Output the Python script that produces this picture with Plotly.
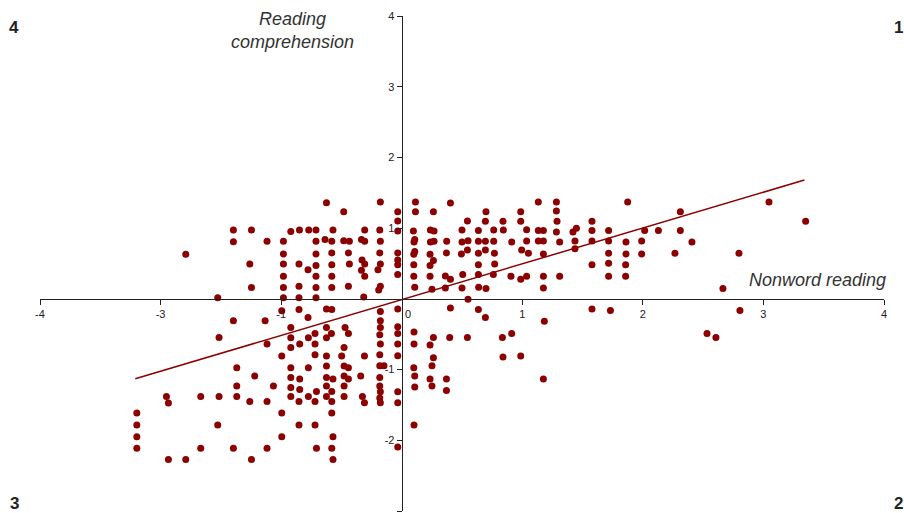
import plotly.graph_objects as go

# Nonword reading (x) and reading comprehension (y) z-scores
nonword = [
    -1.396, -1.396, -1.791, -1.526, -1.396, -1.515, -1.368, -1.368, -1.951, -1.935, -1.667, -1.515, -1.368,
    -2.197, -2.197, -1.526, -2.197, -2.197, -1.667, -1.396, -1.935, -1.791,
    -0.624, -0.481, -1.246, -0.920, -0.848, -0.771, -0.711, -0.570, -1.117, -0.981, -0.711, -0.636, -0.580,
    -0.481, -0.434, -0.981, -0.711, -0.580, -0.442, -1.260, -0.981, -0.852, -0.777, -0.711, -0.580, -0.434,
    -0.981, -0.711, -0.580, -1.246, -0.981, -0.852, -0.711, -0.580, -0.442, -0.981, -0.852, -0.711,
    -0.995, -0.852, -0.624, -0.580, -1.133, -0.777, -0.920, -0.624, -0.470, -0.920, -0.774, -0.719, -0.583,
    -0.442, -0.624, -1.117, -0.920, -0.846, -0.719, -0.478, -0.995, -0.719, -0.624, -0.498, -0.920, -0.774,
    -0.624, -0.478, -0.442, -1.219, -0.920, -0.846, -0.624, -0.570, -0.478, -0.442, -1.064, -0.920, -0.846,
    -0.624, -0.478, -1.260, -1.117, -0.920, -0.852, -0.774, -0.707, -0.719, -0.624, -0.580, -0.580, -0.478,
    -0.995, -0.580, -0.852, -0.719, -0.995, -0.570, -1.117, -0.707, -0.580, -1.246, -0.570,
    -0.177, 0.114, 0.404, -0.033, 0.114, 0.263, -0.033, 0.545, -0.307, -0.182, -0.033, 0.097, 0.238, 0.268,
    0.500, -0.334, -0.307, -0.177, 0.108, 0.102, 0.238, 0.268, 0.373, 0.500, 0.550, -0.182, -0.033, 0.108,
    0.100, 0.235, 0.371, 0.495, 0.545, -0.329, -0.307, -0.334, -0.177, -0.197, -0.033, -0.033, -0.033,
    0.100, 0.263, 0.235, -0.307, 0.100, 0.235, 0.362, 0.404, 0.506, -0.177, -0.191, 0.108, 0.251, 0.362,
    0.500, -0.315, 0.550, -0.033, 0.404, -0.177, -0.177, -0.177, -0.033, -0.182, -0.033, 0.102, 0.263,
    0.398, 0.545, -0.177, -0.033, 0.102, 0.235, -0.182, -0.033, 0.263, -0.309, -0.182, -0.147, 0.251,
    0.100, -0.340, -0.182, 0.108, 0.235, 0.371, -0.182, 0.108, 0.251, -0.177, -0.033, 0.371, -0.326,
    -0.182, -0.309, -0.177, -0.033, 0.102, -0.033,
    1.133, 1.283, 0.699, 0.987, 1.283, 0.694, 0.840, 0.987, 1.288, 0.636, 0.763, 0.843, 1.036, 1.133,
    1.175, 1.283, 1.420, 1.449, 0.636, 0.694, 0.763, 0.912, 1.036, 1.133, 1.175, 1.310, 1.437, 0.636,
    0.694, 0.769, 0.995, 1.051, 1.175, 1.437, 0.636, 0.771, 0.636, 0.760, 0.906, 0.987, 1.036, 1.175,
    1.310, 0.638, 0.699, 1.175, 0.636, 0.694, 1.183, 0.912, 0.835, 0.840, 0.987, 1.175,
    1.874, 1.578, 2.311, 1.578, 1.716, 2.015, 2.129, 2.311, 1.578, 1.716, 1.860, 1.990, 2.407, 1.716,
    1.860, 1.990, 2.266, 1.578, 1.716, 1.857, 1.716, 1.857, 1.578, 1.731,
    3.046, 3.350, 2.797, 2.664, 2.805, 2.532, 2.606,
]
comprehension = [
    0.975, 0.809, 0.631, 0.014, -0.311, -0.547, -0.975, -1.233, -1.380, -1.473, -1.380, -1.380, -1.380,
    -1.614, -1.784, -1.784, -1.949, -2.114, -2.114, -2.114, -2.270, -2.270,
    1.360, 1.233, 0.975, 0.951, 0.975, 0.975, 0.975, 0.975, 0.815, 0.815, 0.815, 0.838, 0.815,
    0.823, 0.815, 0.636, 0.636, 0.650, 0.650, 0.494, 0.494, 0.494, 0.410, 0.470, 0.484, 0.494,
    0.321, 0.321, 0.321, 0.160, 0.160, 0.179, 0.160, 0.160, 0.179, 0.014, 0.014, 0.014,
    -0.169, -0.151, -0.145, -0.151, -0.311, -0.264, -0.405, -0.405, -0.405, -0.551, -0.551, -0.490, -0.490,
    -0.490, -0.551, -0.640, -0.688, -0.640, -0.640, -0.688, -0.809, -0.791, -0.809, -0.809, -0.975, -0.975,
    -0.951, -0.951, -0.975, -1.092, -1.112, -1.134, -1.112, -1.134, -1.092, -1.134, -1.233, -1.253, -1.281,
    -1.233, -1.233, -1.451, -1.451, -1.380, -1.451, -1.380, -1.309, -1.451, -1.380, -1.309, -1.451, -1.380,
    -1.614, -1.614, -1.784, -1.784, -1.949, -1.949, -2.114, -2.114, -2.114, -2.270, -2.270,
    1.370, 1.370, 1.356, 1.233, 1.233, 1.233, 1.102, 1.102, 0.975, 0.975, 0.960, 0.960, 0.975, 0.960,
    0.975, 0.838, 0.815, 0.815, 0.838, 0.805, 0.805, 0.815, 0.815, 0.805, 0.823, 0.650, 0.650, 0.668,
    0.631, 0.631, 0.650, 0.636, 0.692, 0.551, 0.494, 0.405, 0.494, 0.410, 0.551, 0.484, 0.343,
    0.484, 0.541, 0.470, 0.321, 0.321, 0.321, 0.325, 0.278, 0.343, 0.179, 0.127, 0.165, 0.137, 0.155,
    0.155, 0.028, -0.004, -0.145, -0.131, -0.179, -0.311, -0.405, -0.395, -0.508, -0.490, -0.470, -0.547,
    -0.547, -0.547, -0.640, -0.640, -0.640, -0.654, -0.791, -0.805, -0.833, -0.809, -0.946, -0.946, -0.946,
    -0.975, -1.092, -1.112, -1.092, -1.134, -1.134, -1.233, -1.247, -1.233, -1.314, -1.314, -1.295, -1.380,
    -1.403, -1.469, -1.469, -1.469, -1.784, -2.095,
    1.370, 1.370, 1.233, 1.233, 1.243, 1.097, 1.097, 1.097, 1.097, 0.965, 0.975, 0.975, 0.979, 0.965,
    0.965, 0.946, 0.946, 0.999, 0.815, 0.815, 0.815, 0.805, 0.819, 0.819, 0.819, 0.805, 0.819, 0.645,
    0.692, 0.645, 0.692, 0.645, 0.636, 0.710, 0.484, 0.494, 0.343, 0.343, 0.321, 0.278, 0.321, 0.321,
    0.321, 0.165, 0.145, 0.155, -0.151, -0.264, -0.315, -0.490, -0.547, -0.823, -0.809, -1.134,
    1.370, 1.097, 1.233, 0.965, 0.965, 0.965, 0.965, 0.965, 0.819, 0.819, 0.805, 0.819, 0.805, 0.645,
    0.636, 0.636, 0.645, 0.484, 0.504, 0.484, 0.321, 0.321, -0.145, -0.165,
    1.370, 1.097, 0.645, 0.145, -0.165, -0.490, -0.547,
]

# Regression line end points
fit_x = [-2.21, 3.34]
fit_y = [-1.13, 1.68]

x_tickvals = [-3, -2, -1, 1, 2, 3, 4]
x_ticktext = ["-4", "-3", "-1", "1", "2", "3", "4"]
y_tickvals = [-3, -2, -1, 1, 2, 3, 4]
y_ticktext = ["-3", "-2", "-1", "1", "2", "3", "4"]

RED = "#8B0000"
AX = "#222222"
FONT = "Liberation Sans, Arial, sans-serif"

fig = go.Figure()
fig.add_trace(go.Scatter(x=nonword, y=comprehension, mode="markers",
                         marker=dict(size=7, color=RED, line=dict(width=0)),
                         showlegend=False, hoverinfo="x+y"))
fig.add_trace(go.Scatter(x=fit_x, y=fit_y, mode="lines",
                         line=dict(color=RED, width=1.5), showlegend=False))

fig.update_layout(
    template="none",
    width=904, height=513,
    margin=dict(l=40, r=20, t=16, b=2, pad=0),
    paper_bgcolor="white", plot_bgcolor="white",
    font=dict(family=FONT, color=AX, size=11),
    xaxis=dict(range=[-3, 4], anchor="free", position=3/7, showline=True, linecolor=AX, linewidth=1.2,
               showgrid=False, zeroline=False, ticks="outside", ticklen=5, tickwidth=1, tickcolor=AX,
               tickvals=x_tickvals, ticktext=x_ticktext, tickfont=dict(size=11, color=AX),
               automargin=False, fixedrange=True),
    yaxis=dict(range=[-3, 4], anchor="free", position=3/7, showline=True, linecolor=AX, linewidth=1.2,
               showgrid=False, zeroline=False, ticks="outside", ticklen=5, tickwidth=1, tickcolor=AX,
               tickvals=y_tickvals, ticktext=y_ticktext, tickfont=dict(size=11, color=AX),
               automargin=False, fixedrange=True),
)

annots = [
    dict(x=0, y=0, xref="x", yref="y", text="0", showarrow=False, xanchor="left", yanchor="top",
         xshift=1, yshift=-7, font=dict(size=11, color=AX)),
    dict(x=0.2986, y=0.970, xref="paper", yref="paper", text="<i>Reading<br>comprehension</i>",
         showarrow=False, xanchor="center", yanchor="middle", align="center",
         font=dict(size=18, color="#333333")),
    dict(x=1.0047, y=0.4667, xref="paper", yref="paper", text="<i>Nonword reading</i>",
         showarrow=False, xanchor="right", yanchor="middle", font=dict(size=18, color="#333333")),
    dict(x=-0.0308, y=0.9758, xref="paper", yref="paper", text="<b>4</b>", showarrow=False,
         xanchor="center", yanchor="middle", font=dict(size=17, color=AX)),
    dict(x=1.0166, y=0.9758, xref="paper", yref="paper", text="<b>1</b>", showarrow=False,
         xanchor="center", yanchor="middle", font=dict(size=17, color=AX)),
    dict(x=-0.0308, y=0.016, xref="paper", yref="paper", text="<b>3</b>", showarrow=False,
         xanchor="center", yanchor="middle", font=dict(size=17, color=AX)),
    dict(x=1.0166, y=0.016, xref="paper", yref="paper", text="<b>2</b>", showarrow=False,
         xanchor="center", yanchor="middle", font=dict(size=17, color=AX)),
]
fig.update_layout(annotations=annots)

# remove the default page margin so the 904x513 figure fills the window exactly
fig.write_html(
    "out.html",
    config={"displayModeBar": False},
    post_script="document.body.style.margin='0';document.documentElement.style.overflow='hidden';",
)
